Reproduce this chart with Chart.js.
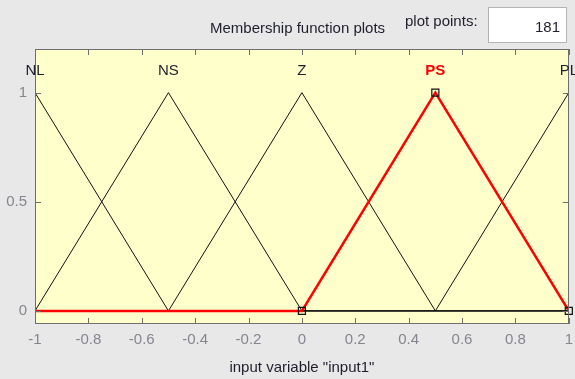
<!DOCTYPE html>
<html>
<head>
<meta charset="utf-8">
<script src="https://cdn.jsdelivr.net/npm/chart.js@4/dist/chart.umd.min.js"></script>
<style>
  html, body { margin:0; padding:0; background:#e8e8e8; }
  body { width:575px; height:379px; position:relative; overflow:hidden; font-family:"Liberation Sans", Arial, sans-serif; }
  #wrap { position:absolute; left:0; top:0; width:575px; height:379px; }
  .hdr { position:absolute; color:#1e1e2e; font-size:15px; white-space:nowrap; }
  #title { left:210px; top:19px; }
  #pp { left:405px; top:12px; }
  #box { position:absolute; left:488px; top:7px; width:79px; height:36px; background:#fff; border:1px solid #b4b4b4; box-sizing:border-box; }
  #boxval { position:absolute; right:6px; top:10px; font-size:15px; color:#1e1e2e; }
</style>
</head>
<body>
<div id="wrap"><canvas id="c" width="575" height="379"></canvas></div>
<div class="hdr" id="title">Membership function plots</div>
<div class="hdr" id="pp">plot points:</div>
<div id="box"><span id="boxval">181</span></div>
<script>
// ---- data ----
const mfNames = ['NL', 'NS', 'Z', 'PS', 'PL'];
const mfCenters = [-1, -0.5, 0, 0.5, 1];
const nlX = [-1, -0.5, 1];
const nlY = [1, 0, 0];
const nsX = [-1, -0.5, 0, 1];
const nsY = [0, 1, 0, 0];
const zX = [-1, -0.5, 0, 0.5, 1];
const zY = [0, 0, 1, 0, 0];
const psX = [-1, 0, 0.5, 1];
const psY = [0, 0, 1, 0];
const plX = [-1, 0.5, 1];
const plY = [0, 0, 1];
const xTicks = [-1, -0.8, -0.6, -0.4, -0.2, 0, 0.2, 0.4, 0.6, 0.8, 1];
const yTicks = [0, 0.5, 1];
const plotPoints = 181;
const selectedIndex = 3;
const markerX = [0, 0.5, 1];
const markerY = [0, 1, 0];

const toPts = (xs, ys) => xs.map((x, i) => ({x: x, y: ys[i]}));
const FONT = '"Liberation Sans", Arial, sans-serif';

const mfSeries = [[nlX, nlY], [nsX, nsY], [zX, zY], [psX, psY], [plX, plY]];
const datasets = [];
mfSeries.forEach((s, i) => {
  if (i === selectedIndex) return;
  datasets.push({
    label: mfNames[i], data: toPts(s[0], s[1]), showLine: true,
    borderColor: '#111', borderWidth: 1, pointRadius: 0, pointHoverRadius: 0, order: 2
  });
});
datasets.push({
  label: mfNames[selectedIndex], data: toPts(psX, psY), showLine: true,
  borderColor: '#ff0000', borderWidth: 2.5, pointRadius: 0, pointHoverRadius: 0, order: 1
});
datasets.push({
  label: 'markers', data: toPts(markerX, markerY), showLine: false,
  pointStyle: 'rect', pointRadius: 5, pointBorderColor: '#111', pointBackgroundColor: 'rgba(0,0,0,0)',
  pointBorderWidth: 1.2, order: 0, clip: 5
});

const decor = {
  id: 'decor',
  beforeDraw(chart) {
    const {ctx, chartArea: a} = chart;
    ctx.save();
    ctx.fillStyle = '#ffffcc';
    ctx.fillRect(a.left, a.top, a.right - a.left, a.bottom - a.top);
    ctx.restore();
  },
  afterDatasetsDraw(chart) {
    const {ctx, chartArea: a, scales} = chart;
    const xs = scales.x, ys = scales.y;
    ctx.save();
    ctx.strokeStyle = '#6e6e6e';
    ctx.lineWidth = 1;
    ctx.strokeRect(Math.round(a.left) + 0.5, Math.round(a.top) + 0.5, Math.round(a.right - a.left) - 1, Math.round(a.bottom - a.top) - 1);
    ctx.beginPath();
    const L = 6;
    xTicks.forEach(v => {
      const px = Math.round(xs.getPixelForValue(v)) + 0.5;
      ctx.moveTo(px, a.top); ctx.lineTo(px, a.top + L);
      ctx.moveTo(px, a.bottom); ctx.lineTo(px, a.bottom - L);
    });
    yTicks.forEach(v => {
      const py = Math.round(ys.getPixelForValue(v)) + 0.5;
      ctx.moveTo(a.left, py); ctx.lineTo(a.left + L, py);
      ctx.moveTo(a.right, py); ctx.lineTo(a.right - L, py);
    });
    ctx.stroke();
    // MF labels
    ctx.textAlign = 'center';
    ctx.textBaseline = 'middle';
    mfNames.forEach((n, i) => {
      const px = xs.getPixelForValue(mfCenters[i]);
      const py = ys.getPixelForValue(1.1);
      if (i === selectedIndex) { ctx.fillStyle = '#ff0000'; ctx.font = 'bold 15px ' + FONT; }
      else { ctx.fillStyle = '#1e1e2e'; ctx.font = '15px ' + FONT; }
      ctx.fillText(n, px, py);
    });
    ctx.restore();
  }
};

new Chart(document.getElementById('c'), {
  type: 'scatter',
  data: { datasets: datasets },
  plugins: [decor],
  options: {
    responsive: false,
    animation: false,
    events: [],
    layout: { padding: { top: 49, right: 6, left: 0, bottom: 0 } },
    plugins: { legend: { display: false }, tooltip: { enabled: false } },
    scales: {
      x: {
        type: 'linear', min: -1, max: 1,
        afterBuildTicks: s => { s.ticks = xTicks.map(v => ({value: v})); },
        afterFit: s => { s.height = 55; s.paddingRight = 0; s.paddingLeft = 0; },
        grid: { display: false, drawTicks: false },
        border: { display: false },
        ticks: { color: '#858590', font: { family: FONT, size: 15 }, padding: 7, maxRotation: 0, autoSkip: false,
                 callback: v => String(Math.round(v * 10) / 10) },
        title: { display: true, text: 'input variable "input' + '1"', color: '#1e1e2e', font: { family: FONT, size: 15 }, padding: { top: 2, bottom: 2 } }
      },
      y: {
        type: 'linear', min: -0.06, max: 1.2,
        afterBuildTicks: s => { s.ticks = yTicks.map(v => ({value: v})); },
        afterFit: s => { s.width = 35; s.paddingTop = 0; s.paddingBottom = 0; },
        grid: { display: false, drawTicks: false },
        border: { display: false },
        ticks: { color: '#858590', font: { family: FONT, size: 15 }, padding: 8, autoSkip: false,
                 callback: v => String(v) }
      }
    }
  }
});
</script>
</body>
</html>
